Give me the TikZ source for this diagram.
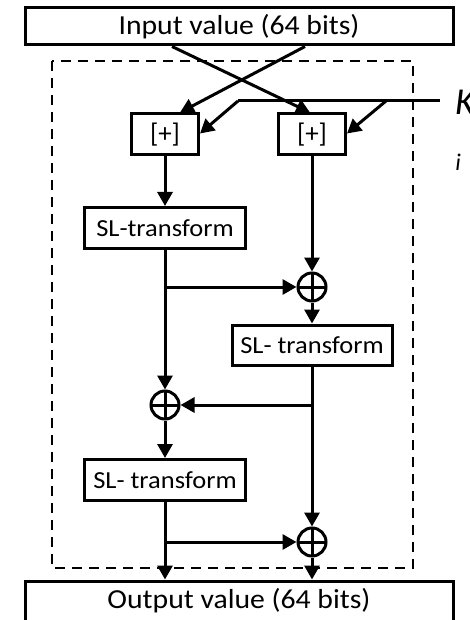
\documentclass[tikz,border=0pt]{standalone}
\usepackage{fontspec}
\setmainfont{Carlito}
\newfontfamily\widefont[FakeStretch=1.08]{Carlito}
\usetikzlibrary{arrows.meta}
\begin{document}
\begin{tikzpicture}[
  x=1pt, y=-1pt,
  box/.style={draw, line width=3pt, inner sep=0pt, font=\widefont\fontsize{27.5}{30}\selectfont},
  addbox/.style={draw, line width=3pt, inner sep=0pt, minimum width=67pt, minimum height=41pt, font=\fontsize{27}{30}\selectfont},
  slbox/.style={box, minimum width=161pt, minimum height=41pt, font=\widefont\fontsize{24.5}{28}\selectfont},
  xor/.style={circle, draw, line width=3pt, minimum size=28pt, inner sep=0pt,
    path picture={\draw[line width=3pt] (path picture bounding box.north) -- (path picture bounding box.south)
      (path picture bounding box.west) -- (path picture bounding box.east);}},
  arrow/.style={-{Triangle[length=14pt,width=15pt]}, line width=3pt},
  wire/.style={line width=3pt}
]
\useasboundingbox (0,0) rectangle (470,620);

\node[box, minimum width=428pt, minimum height=37pt] (inp) at (239,26.5) {Input value (64 bits)};
\node[box, minimum width=428pt, minimum height=40pt] (out) at (239,601) {Output value (64 bits)};
\draw[line width=2.8pt, dash pattern=on 10pt off 7pt] (52,61) rectangle (413,568);

\node[addbox] (addL) at (165,134.5) {[+]};
\node[addbox] (addR) at (312,134.5) {[+]};
\node[slbox] (sl1) at (165,228) {SL-transform};
\node[xor] (xor1) at (312,287) {};
\node[slbox, minimum width=160pt, minimum height=40pt] (sl2) at (312,345) {SL- transform};
\node[xor] (xor2) at (165,405) {};
\node[slbox] (sl3) at (165,480) {SL- transform};
\node[xor] (xor3) at (312,542) {};

% round key
\coordinate (k0) at (238,101);
\coordinate (kd) at (386,101);
\coordinate (k1) at (440,101);
\node[anchor=west, inner sep=0pt, font=\fontsize{38}{40}\selectfont\itshape] (kname) at (455,102) {K};
\node[inner sep=0pt, font=\fontsize{24}{26}\selectfont\itshape] (kidx) at (458,162) {i};

\draw[wire] (k0) -- (k1);
\draw[arrow] (k0) -- ([yshift=1pt]addL.east);
\draw[arrow] (kd) -- ([yshift=1pt]addR.east);

% input halves cross over
\draw[arrow] ([xshift=-67pt]inp.south) -- ([xshift=-2pt]addR.north);
\draw[arrow] ([xshift=66pt]inp.south) -- ([xshift=15pt]addL.north);

\draw[arrow] (addL) -- (sl1);
\draw[arrow] (addR) -- (xor1);
\draw[arrow] (sl1) -- (xor2);
\draw[arrow] (sl1.south |- xor1) -- (xor1);
\draw[arrow] (xor1) -- (sl2);
\draw[arrow] (sl2) -- (xor3);
\draw[arrow] (sl2.south |- xor2) -- (xor2);
\draw[arrow] (xor2) -- (sl3);
\draw[arrow] (sl3) -- (sl3 |- out.north);
\draw[arrow] (sl3.south |- xor3) -- (xor3);
\draw[arrow] (xor3) -- (xor3 |- out.north);
\end{tikzpicture}
\end{document}
